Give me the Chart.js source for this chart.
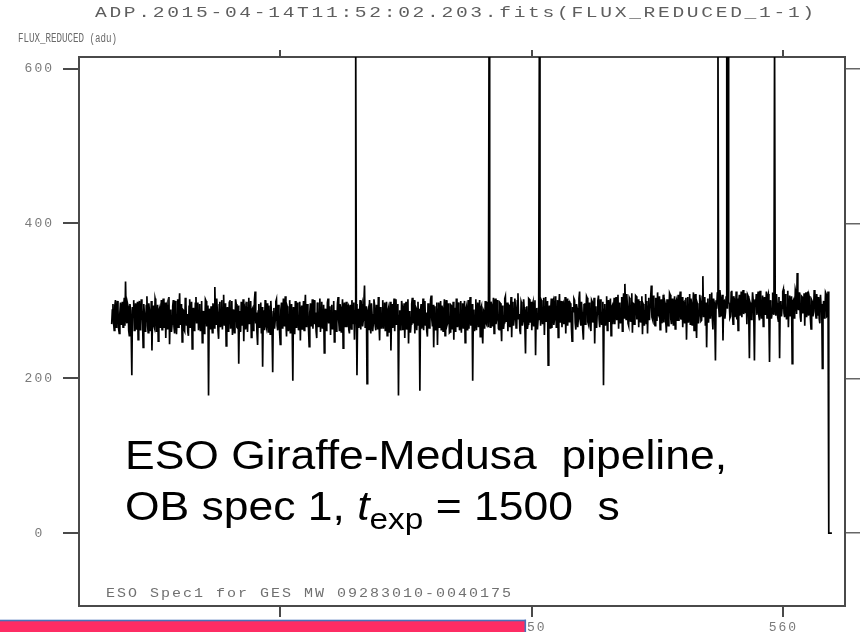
<!DOCTYPE html>
<html>
<head>
<meta charset="utf-8">
<script src="https://cdn.jsdelivr.net/npm/chart.js@4.4.1/dist/chart.umd.min.js"></script>
<style>
  html, body { margin: 0; padding: 0; background: #ffffff; }
  #wrap { width: 860px; height: 632px; position: relative; }
</style>
</head>
<body>
<div id="wrap"><canvas id="spec"></canvas></div>
<script>
// Labels
const fileTitle = 'ADP.2015-04-14T11:52:02.203.fits(FLUX_REDUCED_1-1)';
const yAxisLabel = 'FLUX_REDUCED (adu)';
const footerLabel = 'ESO Spec1 for GES MW 09283010-0040175';
const noteLine1 = 'ESO Giraffe-Medusa  pipeline,';
const noteLine2Head = 'OB spec 1, ';
const noteLine2Sym = 't';
const noteLine2Sub = 'exp';
const noteLine2Tail = ' = 1500  s';

// Axes
const xTicks = [540, 550, 560];
const yTicks = [0, 200, 400, 600];
const xRange = [532.0, 562.45];
const yRange = [-94, 615];

// Wavelength grid (nm): first sample and sampling step
const waveStart = 533.30;
const waveStep = 0.025;

// Reduced flux (adu) per sample
const flux = [
  270,288,296,272,262,294,301,266,275,300,289,264,258,285,298,270,281,299,266,292,
  304,268,325,283,271,297,293,262,255,296,288,259,204,292,279,301,262,276,297,264,
  284,299,250,289,300,263,268,302,291,275,240,296,283,261,270,294,306,268,259,297,
  287,262,276,300,236,284,294,268,265,303,299,261,273,295,248,287,290,266,281,301,
  263,296,303,265,277,298,252,291,295,263,284,305,244,281,289,260,270,293,301,267,
  258,300,292,257,279,302,266,291,310,270,272,296,247,289,288,263,261,304,297,268,
  283,260,255,293,302,266,274,299,238,286,291,262,268,297,305,271,280,298,262,287,
  296,261,271,300,246,282,287,258,264,302,300,267,276,294,178,290,284,263,293,272,
  259,297,290,265,318,279,270,303,286,262,251,295,299,266,278,301,263,290,308,269,
  274,297,242,283,292,261,267,298,301,264,282,300,256,288,289,259,271,302,296,266,
  265,294,219,281,287,260,299,268,273,302,248,290,293,263,280,299,260,291,304,270,
  277,300,253,288,290,262,269,301,312,271,285,259,243,287,296,265,272,298,258,292,
  215,284,288,262,301,270,266,297,280,260,294,273,257,300,283,262,208,286,291,264,
  275,299,302,268,262,295,287,259,244,289,298,265,279,303,268,286,306,272,254,293,
  290,261,273,301,259,290,296,266,197,292,283,257,300,274,265,298,289,262,276,299,
  249,291,294,264,281,300,262,289,308,267,270,296,287,262,241,285,297,268,278,302,
  264,292,301,270,285,261,252,298,292,266,274,303,260,290,299,264,281,295,233,283,
  290,262,267,298,303,271,279,293,256,287,295,263,283,300,247,282,288,261,270,297,
  305,274,262,296,291,260,277,302,239,284,298,267,284,299,266,291,293,263,258,295,
  286,264,301,275,271,298,250,287,640,296,204,281,290,265,280,301,263,292,296,267,
  275,298,320,266,268,293,193,285,289,262,301,270,258,297,283,261,271,302,294,268,
  262,295,287,263,305,272,249,291,292,264,276,301,264,289,298,262,281,299,255,286,
  290,260,272,299,236,283,296,265,284,303,261,292,302,269,277,296,178,281,288,263,
  266,300,293,262,281,297,252,288,299,263,274,302,245,286,287,259,270,296,304,271,
  279,301,258,293,291,262,283,299,268,290,184,287,296,264,276,303,262,289,300,268,
  285,261,254,297,289,265,272,301,307,276,267,295,240,284,293,262,280,298,243,289,
  298,266,275,300,263,294,290,261,282,302,255,290,301,268,271,297,288,259,260,295,
  294,263,278,299,250,291,286,260,303,273,266,298,291,262,274,300,259,287,297,265,
  283,300,246,288,292,263,277,301,264,293,305,268,272,296,197,284,289,261,281,302,
  262,294,298,267,275,301,254,290,293,262,245,288,286,264,300,272,270,299,291,266,
  640,292,266,299,295,268,281,304,258,293,303,270,276,301,290,264,263,298,297,271,
  248,294,288,264,272,303,306,274,280,298,261,295,294,266,285,305,253,290,299,268,
  277,303,292,265,266,300,310,276,283,262,257,299,296,268,274,302,289,266,232,291,
  293,264,270,303,302,272,281,299,262,294,298,267,285,301,230,289,291,263,276,305,
  640,296,268,301,299,270,283,304,256,292,305,274,279,300,217,288,294,265,287,303,
  265,297,300,269,276,306,292,266,271,301,253,293,309,273,284,300,266,295,297,270,
  280,305,258,294,303,268,289,300,272,297,295,265,248,292,286,303,301,272,263,296,
  291,266,277,303,312,275,268,299,285,262,250,295,297,270,282,306,304,273,270,298,
  288,267,261,301,299,272,276,304,245,291,293,265,283,300,307,276,266,302,290,269,
  274,299,191,289,296,268,285,306,262,295,301,274,279,303,255,292,294,270,288,304,
  270,300,305,275,283,308,264,296,298,271,287,305,261,294,310,278,322,290,276,309,
  293,271,268,304,302,273,284,310,259,297,296,270,279,307,306,276,288,302,266,298,
  300,272,282,306,257,296,294,268,287,309,271,300,258,293,304,275,292,305,320,279,
  276,307,298,270,268,304,289,274,311,283,281,306,263,297,302,271,286,308,272,301,
  297,273,259,302,291,268,283,310,308,277,270,303,295,269,285,306,264,298,301,275,
  289,308,274,300,312,276,280,305,266,298,299,271,291,304,250,293,305,272,284,309,
  270,303,296,269,287,311,262,299,309,276,252,297,294,271,281,308,300,274,275,306,
  332,279,289,305,268,298,240,293,303,272,292,309,277,300,311,278,263,303,298,274,
  223,301,290,310,640,296,280,314,305,281,294,308,249,299,300,277,286,305,640,290,
  640,299,296,278,280,311,313,284,270,306,302,279,289,312,276,303,262,299,308,281,
  291,312,279,304,314,283,297,310,284,301,270,308,306,280,226,298,295,276,288,311,
  301,279,223,302,296,309,282,305,312,281,275,313,299,278,287,307,267,300,305,283,
  292,312,278,306,309,280,221,301,296,277,284,311,303,282,640,300,281,309,297,279,
  274,305,226,298,300,280,291,312,315,284,279,309,298,276,286,313,266,302,307,281,
  293,306,219,299,301,278,284,314,310,283,336,300,288,311,297,279,273,306,305,284,
  290,310,268,303,311,279,295,312,281,306,302,277,264,301,299,280,287,313,314,285,
  278,309,296,281,305,277,271,308,292,296,213,289,300,278,285,311,309,280,281,312,
  298
];

// Zero-filled samples past the end of the order
const tailWave = [561.81, 561.93];
const tailFlux = [0, 0];

const points = flux.map((f, i) => ({ x: +(waveStart + i * waveStep).toFixed(3), y: f }))
  .concat(tailWave.map((w, i) => ({ x: w, y: tailFlux[i] })));

const frameColor = '#4a4a4a';
const labelColor = '#7a7a7a';
const monoFont = '"Liberation Mono", "DejaVu Sans Mono", monospace';

function setTicks(values) {
  return (scale) => { scale.ticks = values.map(v => ({ value: v })); };
}

// Draws text stretched horizontally to span a given width;
// without sx the stretch alone makes up the width.
function fitText(ctx, text, x, y, font, width, sx, color) {
  ctx.save();
  ctx.font = font;
  ctx.letterSpacing = '0px';
  const w0 = ctx.measureText(text).width;
  const k = sx || width / w0;
  const extra = (width / k - w0) / text.length;
  ctx.letterSpacing = extra.toFixed(2) + 'px';
  ctx.fillStyle = color;
  ctx.textAlign = 'left';
  ctx.textBaseline = 'alphabetic';
  ctx.translate(x, y);
  ctx.scale(k, 1);
  ctx.fillText(text, 0, 0);
  ctx.restore();
}

const decorations = {
  id: 'decorations',
  beforeDraw(chart) {
    chart.ctx.letterSpacing = '2px';
  },
  afterDraw(chart) {
    const ctx = chart.ctx;
    const area = chart.chartArea;

    // Header and axis caption
    fitText(ctx, fileTitle, 95, 17, '14px ' + monoFont, 722, 1.4, '#5e5e5e');
    fitText(ctx, yAxisLabel, 18, 42, '12px ' + monoFont, 99, null, '#6a6a6a');
    // Footer inside the frame
    fitText(ctx, footerLabel, area.left + 27, area.bottom - 9, '12px ' + monoFont, 407, 1.25, '#707070');

    // Annotation block
    ctx.save();
    ctx.letterSpacing = '0px';
    ctx.fillStyle = '#000000';
    ctx.textBaseline = 'alphabetic';
    ctx.textAlign = 'left';
    const bigFont = '40px "Liberation Sans", Arial, sans-serif';
    const italicFont = 'italic 40px "Liberation Sans", Arial, sans-serif';
    const subFont = '30px "Liberation Sans", Arial, sans-serif';
    ctx.font = bigFont;
    const sx = 602 / ctx.measureText(noteLine1).width;
    const x0 = 125;
    ctx.save();
    ctx.translate(x0, 469);
    ctx.scale(sx, 1);
    ctx.fillText(noteLine1, 0, 0);
    ctx.restore();

    ctx.save();
    ctx.translate(x0, 520);
    ctx.scale(sx, 1);
    let cx = 0;
    ctx.font = bigFont;
    ctx.fillText(noteLine2Head, cx, 0);
    cx += ctx.measureText(noteLine2Head).width;
    ctx.font = italicFont;
    ctx.fillText(noteLine2Sym, cx, 0);
    cx += ctx.measureText(noteLine2Sym).width;
    ctx.font = subFont;
    ctx.fillText(noteLine2Sub, cx, 9);
    cx += ctx.measureText(noteLine2Sub).width;
    ctx.font = bigFont;
    ctx.fillText(noteLine2Tail, cx, 0);
    ctx.restore();
    ctx.restore();

    // Slide footer strip
    ctx.save();
    ctx.fillStyle = '#fe2c64';
    ctx.fillRect(0, 621, 526, 11);
    ctx.fillStyle = '#4a72b8';
    ctx.fillRect(0, 619.7, 526, 1.6);
    ctx.fillRect(524.5, 619.7, 1.6, 12.3);
    ctx.restore();
  }
};

const tickFont = { family: monoFont, size: 13 };

new Chart(document.getElementById('spec'), {
  type: 'line',
  data: {
    datasets: [{
      data: points,
      borderColor: '#000000',
      borderWidth: 1.7,
      borderJoinStyle: 'miter',
      pointRadius: 0,
      tension: 0,
      fill: false
    }]
  },
  options: {
    responsive: true,
    maintainAspectRatio: false,
    animation: false,
    devicePixelRatio: 1,
    parsing: false,
    normalized: true,
    layout: { padding: 0 },
    plugins: {
      legend: { display: false },
      tooltip: { enabled: false },
      title: { display: false }
    },
    scales: {
      x: {
        type: 'linear',
        position: 'bottom',
        min: xRange[0], max: xRange[1],
        afterBuildTicks: setTicks(xTicks),
        afterFit: (s) => { s.height = 26; },
        grid: { drawOnChartArea: false, drawTicks: true, tickLength: 11, color: frameColor, lineWidth: 2 },
        border: { display: true, color: frameColor, width: 2 },
        ticks: { color: labelColor, font: tickFont, padding: 3, maxRotation: 0, autoSkip: false }
      },
      x2: {
        type: 'linear',
        position: 'top',
        min: xRange[0], max: xRange[1],
        afterBuildTicks: setTicks(xTicks),
        afterFit: (s) => { s.height = 57; },
        grid: { drawOnChartArea: false, drawTicks: true, tickLength: 7, color: frameColor, lineWidth: 2 },
        border: { display: true, color: frameColor, width: 2 },
        ticks: { display: false }
      },
      y: {
        type: 'linear',
        position: 'left',
        min: yRange[0], max: yRange[1],
        afterBuildTicks: setTicks(yTicks),
        afterFit: (s) => { s.width = 79; },
        grid: { drawOnChartArea: false, drawTicks: true, tickLength: 16, color: frameColor, lineWidth: 2 },
        border: { display: true, color: frameColor, width: 2 },
        ticks: { color: labelColor, font: tickFont, padding: 12, crossAlign: 'center' }
      },
      y2: {
        type: 'linear',
        position: 'right',
        min: yRange[0], max: yRange[1],
        afterBuildTicks: setTicks(yTicks),
        afterFit: (s) => { s.width = 15; },
        grid: { drawOnChartArea: false, drawTicks: true, tickLength: 15, color: '#666666', lineWidth: 1.5 },
        border: { display: true, color: frameColor, width: 2 },
        ticks: { display: false }
      }
    }
  },
  plugins: [decorations]
});
</script>
</body>
</html>
